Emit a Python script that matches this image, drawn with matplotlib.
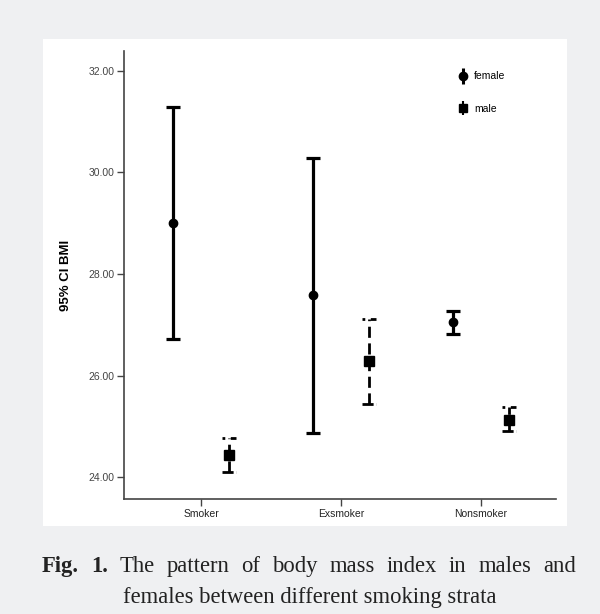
import matplotlib.pyplot as plt
import numpy as np
from matplotlib.lines import Line2D
from matplotlib.patches import Rectangle
from matplotlib.legend_handler import HandlerTuple

groups = ["Smoker", "Exsmoker", "Nonsmoker"]
female_mean = [29.00, 27.59, 27.05]
female_low = [26.72, 24.87, 26.82]
female_high = [31.28, 30.29, 27.27]
male_mean = [24.43, 26.29, 25.12]
male_low = [24.10, 25.44, 24.91]
male_high = [24.77, 27.11, 25.38]
yticks = [24, 26, 28, 30, 32]

fig = plt.figure(figsize=(6, 6.14), dpi=100)
fig.patch.set_facecolor("#eff0f2")
fig.patches.append(Rectangle((0.0717, 0.1433), 0.8733, 0.7932, transform=fig.transFigure,
                             facecolor="white", edgecolor="none", zorder=-5))

ax = fig.add_axes([0.2067, 0.1873, 0.72, 0.7296], zorder=2)
ax.set_facecolor("none")

x = np.arange(len(groups))
xf = x - 0.2
xm = x + 0.2
cap = 0.05

# female: solid bars
ax.vlines(xf, female_low, female_high, color="black", linewidth=2.3)
ax.hlines(female_low, xf - cap, xf + cap, color="black", linewidth=2.3)
ax.hlines(female_high, xf - cap, xf + cap, color="black", linewidth=2.3)
ax.plot(xf, female_mean, "o", color="black", markersize=6)

# male: dashed bars
ax.vlines(xm, male_low, male_high, color="black", linewidth=2.0, linestyles=(0, (4, 2)))
ax.hlines(male_low, xm - cap, xm + cap, color="black", linewidth=2.0, linestyles=(0, (4, 1)))
ax.hlines(male_high, xm - cap, xm + cap, color="black", linewidth=2.0, linestyles=(0, (1, 2, 4, 1)))
ax.plot(xm, male_mean, "s", color="black", markersize=6.5)

ax.set_xlim(-0.55, 2.536)
ax.set_ylim(23.57, 32.39)
ax.set_xticks(x)
ax.set_xticklabels(groups, fontsize=7.5, family="Liberation Sans", color="#222222")
ax.set_yticks(yticks)
ax.set_yticklabels(["%.2f" % v for v in yticks], fontsize=7.5, family="Liberation Sans", color="#444444")
ax.tick_params(direction="out", length=5, width=1, color="#444444", pad=2)
for s in ["top", "right"]:
    ax.spines[s].set_visible(False)
for s in ["left", "bottom"]:
    ax.spines[s].set_color("#444444")
    ax.spines[s].set_linewidth(1.2)
ax.set_ylabel("95% CI BMI", fontsize=9.5, fontweight="bold", family="Liberation Sans", labelpad=12)

fem_handle = (Line2D([], [], marker="|", color="black", markersize=11, markeredgewidth=2.2, linestyle="none"),
              Line2D([], [], marker="o", color="black", markersize=6, linestyle="none"))
male_handle = (Line2D([], [], marker="|", color="black", markersize=10, markeredgewidth=1.5, linestyle="none"),
               Line2D([], [], marker="s", color="black", markersize=6, linestyle="none"))
leg = ax.legend([fem_handle, male_handle], ["female", "male"], loc="upper right",
                bbox_to_anchor=(0.905, 0.976), frameon=False, handler_map={tuple: HandlerTuple(ndivide=1)},
                prop={"family": "Liberation Sans", "size": 7.5}, handlelength=1.0, handletextpad=0.6,
                labelspacing=2.2)

# caption, first line justified
fs = 16.3
renderer = fig.canvas.get_renderer()
words = [("Fig.", "bold"), ("1.", "bold"), ("The", "normal"), ("pattern", "normal"), ("of", "normal"),
         ("body", "normal"), ("mass", "normal"), ("index", "normal"), ("in", "normal"),
         ("males", "normal"), ("and", "normal")]
x0, x1 = 42 / 600, 576 / 600
y1 = 1 - 572 / 614
texts = [fig.text(0, y1, w, fontsize=fs, fontweight=wt, family="Liberation Serif", color="#222222")
         for w, wt in words]
widths = [t.get_window_extent(renderer).width / fig.bbox.width for t in texts]
gap = (x1 - x0 - sum(widths)) / (len(words) - 1)
pos = x0
for t, w in zip(texts, widths):
    t.set_x(pos)
    pos += w + gap
fig.text(0.516, 1 - 603 / 614, "females between different smoking strata", fontsize=fs, ha="center",
         family="Liberation Serif", color="#222222")

fig.savefig("out.png", dpi=100, facecolor=fig.get_facecolor())
